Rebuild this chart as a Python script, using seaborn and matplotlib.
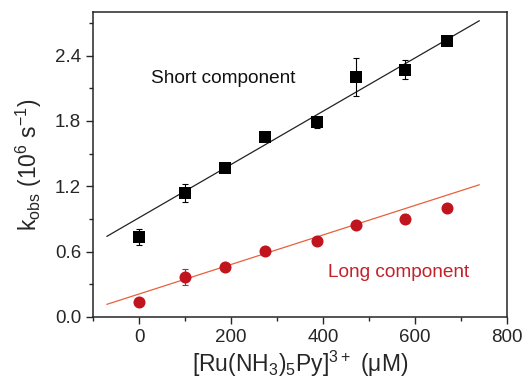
import numpy as np
import pandas as pd
import matplotlib
matplotlib.use("Agg")
import matplotlib.pyplot as plt
import seaborn as sns
from matplotlib.ticker import MultipleLocator

# concentrations (uM) and rate constants (10^6 s^-1)
conc = [0, 100, 187, 275, 387, 471, 578, 669]
k_short = [0.734, 1.137, 1.37, 1.648, 1.789, 2.207, 2.271, 2.531]
err_short = [0.07, 0.08, 0.02, 0.02, 0.05, 0.175, 0.09, 0.02]
k_long = [0.138, 0.367, 0.459, 0.602, 0.697, 0.847, 0.902, 1.003]
err_long = [0.02, 0.07, 0.02, 0.02, 0.02, 0.02, 0.04, 0.02]

# linear fit end points
fit_x = [-70, 740]
fit_short = [0.74, 2.72]
fit_long = [0.116, 1.214]

red = "#c3202a"

sns.set_style("ticks")
plt.rcParams["font.family"] = ["Liberation Sans", "DejaVu Sans"]
plt.rcParams["mathtext.default"] = "regular"

fig = plt.figure(figsize=(5.24, 3.81), dpi=100)
ax = fig.add_axes([0.1775, 0.168, 0.79, 0.8005])

sns.lineplot(x=fit_x, y=fit_short, color="#222222", lw=0.9, ax=ax)
sns.lineplot(x=fit_x, y=fit_long, color="#e8603c", lw=0.9, ax=ax)

ax.errorbar(conc, k_short, yerr=err_short, fmt="none", ecolor="black",
            elinewidth=0.8, capsize=2.5, capthick=0.8, zorder=3)
ax.errorbar(conc, k_long, yerr=err_long, fmt="none", ecolor=red,
            elinewidth=0.8, capsize=2.5, capthick=0.8, zorder=3)

sns.scatterplot(x=conc, y=k_short, marker="s", s=70, color="black",
                edgecolor="black", linewidth=0, ax=ax, zorder=4)
sns.scatterplot(x=conc, y=k_long, marker="o", s=75, color="#c0141f",
                edgecolor="#c0141f", linewidth=0, ax=ax, zorder=4)

ax.text(26, 2.19, "Short component", fontsize=13.7, color="#111111",
        va="center", ha="left")
ax.text(410, 0.41, "Long component", fontsize=13.7, color=red,
        va="center", ha="left")

ax.set_xlim(-100, 800)
ax.set_ylim(0, 2.8)
ax.xaxis.set_major_locator(MultipleLocator(200))
ax.xaxis.set_minor_locator(MultipleLocator(100))
ax.yaxis.set_major_locator(MultipleLocator(0.6))
ax.yaxis.set_minor_locator(MultipleLocator(0.3))
ax.yaxis.set_major_formatter(matplotlib.ticker.FormatStrFormatter("%.1f"))
ax.tick_params(which="major", length=5, width=1, labelsize=13.5, direction="out")
ax.tick_params(which="minor", length=3, width=1, direction="out")
for s in ax.spines.values():
    s.set_linewidth(1.1)

ax.set_xlabel("[Ru(NH$_3$)$_5$Py]$^{3+}$ (μM)", fontsize=16.5, labelpad=2)
ax.set_ylabel("k$_{obs}$ (10$^6$ s$^{-1}$)", fontsize=16.5, labelpad=8)

fig.savefig("out.png", dpi=100)
